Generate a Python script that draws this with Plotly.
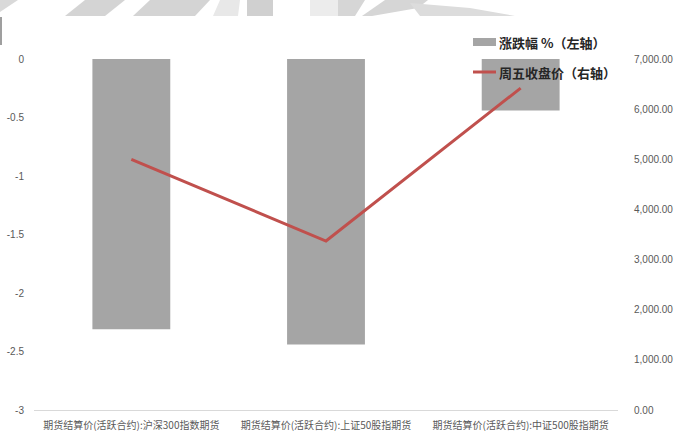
import plotly.graph_objects as go

# Contract names (category axis)
categories = [
    "期货结算价(活跃合约):沪深300指数期货",
    "期货结算价(活跃合约):上证50股指期货",
    "期货结算价(活跃合约):中证500股指期货",
]
# Weekly change, % (left axis)
pct_change = [-2.31, -2.44, -0.44]
# Friday close (right axis)
friday_close = [5000, 3370, 6420]

left_ticks = [0, -0.5, -1, -1.5, -2, -2.5, -3]
left_ticktext = ["0", "-0.5", "-1", "-1.5", "-2", "-2.5", "-3"]
right_ticks = [0, 1000, 2000, 3000, 4000, 5000, 6000, 7000]

bar_name = "涨跌幅 %（左轴）"
line_name = "周五收盘价（右轴）"

W, H = 678, 432
ML, MR, MT, MB = 34, 60, 59, 22
PW, PH = W - ML - MR, H - MT - MB

BAR_COLOR = "#a5a5a5"
LINE_COLOR = "#c0504d"
TICK_COLOR = "#595959"
FONT = "Noto Sans CJK SC"


def px(x, y):
    """Convert page pixel position to paper coordinates."""
    return (x - ML) / PW, (H - MB - y) / PH


fig = go.Figure()
fig.add_trace(go.Bar(
    x=categories, y=pct_change, name=bar_name,
    marker=dict(color=BAR_COLOR, line=dict(width=0)),
    width=0.4, yaxis="y", showlegend=False,
))
fig.add_trace(go.Scatter(
    x=categories, y=friday_close, name=line_name, mode="lines",
    line=dict(color=LINE_COLOR, width=3), yaxis="y2", showlegend=False,
))

shapes = []

# faint banner artwork along the top edge
def poly(points, color):
    pts = [px(x, y) for x, y in points]
    path = "M " + " L ".join(f"{a:.5f},{b:.5f}" for a, b in pts) + " Z"
    return dict(type="path", xref="paper", yref="paper", path=path,
                fillcolor=color, line=dict(width=0), layer="below")

banner = [
    ([(0, 0), (18, 0), (0, 12)], "#d9d9d9"),
    ([(85, 0), (125, 0), (105, 16), (65, 16)], "#d4d4d4"),
    ([(150, 0), (210, 0), (195, 16), (133, 16)], "#d4d4d4"),
    ([(220, 0), (240, 0), (238, 16), (213, 16)], "#e8e8e8"),
    ([(247, 0), (273, 0), (273, 16), (247, 16)], "#d0d0d0"),
    ([(310, 0), (340, 0), (340, 16), (310, 16)], "#ececec"),
    ([(338, 0), (365, 0), (355, 16), (338, 16)], "#d6d6d6"),
    ([(385, 0), (428, 0), (418, 8), (372, 16), (362, 16)], "#d6d6d6"),
    ([(410, 3), (470, 8), (515, 16), (420, 16)], "#dcdcdc"),
]
for pts, c in banner:
    shapes.append(poly(pts, c))

# thin frame edge on the left
x0, y0 = px(1, 17)
x1, y1 = px(1, 45)
shapes.append(dict(type="line", xref="paper", yref="paper", x0=x0, y0=y0, x1=x1, y1=y1,
                   line=dict(color="#7f7f7f", width=1.5)))

# legend: bar swatch
a0, b0 = px(473, 38)
a1, b1 = px(496, 46)
shapes.append(dict(type="rect", xref="paper", yref="paper", x0=a0, y0=b1, x1=a1, y1=b0,
                   fillcolor=BAR_COLOR, line=dict(width=0), layer="above"))
# legend: line swatch
a0, b0 = px(473, 72)
a1, _ = px(496, 72)
shapes.append(dict(type="line", xref="paper", yref="paper", x0=a0, y0=b0, x1=a1, y1=b0,
                   line=dict(color=LINE_COLOR, width=3), layer="above"))

annotations = []
for name, y in [(bar_name, 42), (line_name, 72)]:
    ax, ay = px(497, y)
    annotations.append(dict(text=f"<b>{name}</b>", xref="paper", yref="paper", x=ax, y=ay,
                            xanchor="left", yanchor="middle", showarrow=False,
                            font=dict(family=FONT, size=13, color="#262626")))

fig.update_layout(
    width=W, height=H,
    margin=dict(l=ML, r=MR, t=MT, b=MB, pad=0, autoexpand=False),
    paper_bgcolor="white", plot_bgcolor="white",
    font=dict(family=FONT, color=TICK_COLOR, size=10),
    showlegend=False,
    bargap=0.6,
    xaxis=dict(
        type="category", showgrid=False, zeroline=False, automargin=False,
        showline=True, linecolor="#d9d9d9", linewidth=1,
        ticks="", tickfont=dict(size=10, color=TICK_COLOR),
        ticklabelstandoff=6,
    ),
    yaxis=dict(
        range=[-3, 0], tickvals=left_ticks, ticktext=left_ticktext, automargin=False,
        showgrid=False, zeroline=False, showline=False, ticks="",
        tickfont=dict(size=10, color=TICK_COLOR, family="Liberation Sans"),
        ticklabelstandoff=9,
    ),
    yaxis2=dict(
        range=[0, 7000], tickvals=right_ticks, tickformat=",.2f", automargin=False,
        overlaying="y", side="right",
        showgrid=False, zeroline=False, showline=False, ticks="",
        tickfont=dict(size=10, color=TICK_COLOR, family="Liberation Sans"),
        ticklabelstandoff=15,
    ),
    shapes=shapes,
    annotations=annotations,
)

fig.write_html("out.html")
